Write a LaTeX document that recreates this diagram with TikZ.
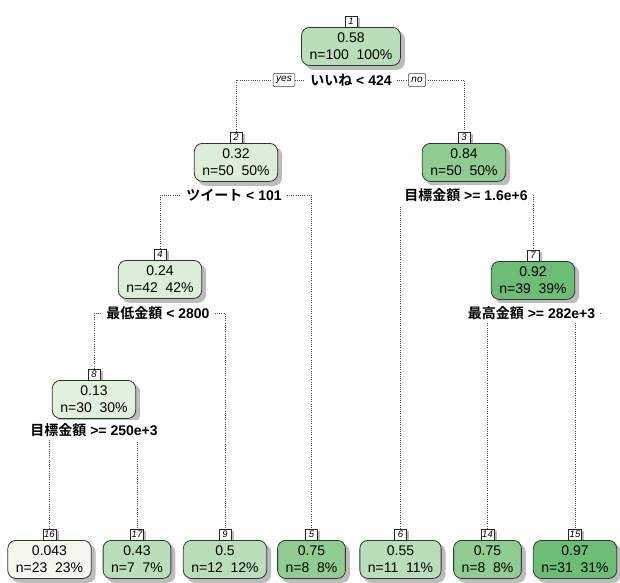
\documentclass[tikz,border=0pt]{standalone}
\usepackage{fontspec}
\setmainfont{Liberation Sans}
\newfontfamily\cjk{Noto Sans CJK JP}[BoldFont={Noto Sans CJK JP Bold}]
\usetikzlibrary{backgrounds}
\definecolor{gA}{HTML}{F2F8EE}
\definecolor{gB}{HTML}{E2F1DE}
\definecolor{gC}{HTML}{DCEED8}
\definecolor{gD}{HTML}{BADEB9}
\definecolor{gE}{HTML}{90CD93}
\definecolor{gF}{HTML}{6CBE76}
\definecolor{shad}{HTML}{BCBCBC}
\tikzset{
  tbox/.style={draw=black!80, line width=0.8pt, rounded corners=8pt, anchor=north,
    minimum height=38pt, inner xsep=8pt, inner ysep=2pt, align=center,
    font=\fontsize{14}{17}\selectfont},
  numlab/.style={draw=black!85, fill=white, line width=0.5pt, inner sep=1pt, anchor=south,
    minimum width=12pt, minimum height=11pt, font=\fontsize{9.5}{10}\selectfont\itshape},
  splitlab/.style={fill=white, inner xsep=5pt, inner ysep=3pt,
    font=\fontsize{14}{16}\selectfont\bfseries},
  yn/.style={draw=black!75, fill=white, line width=0.5pt, rounded corners=1pt,
    minimum height=13pt, inner xsep=3pt, inner ysep=1pt, font=\fontsize{10}{11}\selectfont\itshape},
  conn/.style={draw=black!70, line width=0.6pt, dash pattern=on 0.7pt off 1.5pt},
  shadowbox/.style={fill=shad, rounded corners=8pt},
  shadowlab/.style={fill=shad}
}
\begin{document}
\begin{tikzpicture}[x=1pt,y=-1pt]
\useasboundingbox (0,0) rectangle (620,582);
% internal nodes
\node[tbox, fill=gD] (n1) at (351,27) {0.58\\n=100\ \ 100\%};
\node[tbox, fill=gC] (n2) at (236,143) {0.32\\n=50\ \ 50\%};
\node[tbox, fill=gE] (n3) at (464,143) {0.84\\n=50\ \ 50\%};
\node[tbox, fill=gC] (n4) at (160,260) {0.24\\n=42\ \ 42\%};
\node[tbox, fill=gF] (n7) at (533,261) {0.92\\n=39\ \ 39\%};
\node[tbox, fill=gB] (n8) at (94,380) {0.13\\n=30\ \ 30\%};
% leaves
\node[tbox, fill=gA] (n16) at (49.5,540) {0.043\\n=23\ \ 23\%};
\node[tbox, fill=gD] (n17) at (137,540) {0.43\\n=7\ \ 7\%};
\node[tbox, fill=gD] (n9) at (225,540) {0.5\\n=12\ \ 12\%};
\node[tbox, fill=gE] (n5) at (311.5,540) {0.75\\n=8\ \ 8\%};
\node[tbox, fill=gD] (n6) at (400.5,540) {0.55\\n=11\ \ 11\%};
\node[tbox, fill=gE] (n14) at (487.5,540) {0.75\\n=8\ \ 8\%};
\node[tbox, fill=gF] (n15) at (575,540) {0.97\\n=31\ \ 31\%};
% number labels
\foreach \n in {1,2,3,4,7,8,16,17,9,5,6,14,15}{
  \node[numlab] (l\n) at (n\n.north) {\n};
}
% split labels
\node[splitlab] (s1) at (351,80) {{\cjk\bfseries いいね} < 424};
\node[yn] (yes) at (284,80) {yes};
\node[yn] (no) at (417,80) {no};
\node[splitlab] (s2) at (234,195) {{\cjk\bfseries ツイート} < 101};
\node[splitlab] (s3) at (466,195) {{\cjk\bfseries 目標金額} >= 1.6e+6};
\node[splitlab] (s4) at (158,313) {{\cjk\bfseries 最低金額} < 2800};
\node[splitlab] (s7) at (531.5,313) {{\cjk\bfseries 最高金額} >= 282e+3};
\node[splitlab] (s8) at (94,430) {{\cjk\bfseries 目標金額} >= 250e+3};
% shadows and connectors
\begin{pgfonlayer}{background}
\foreach \n in {1,2,3,4,7,8,16,17,9,5,6,14,15}{
  \fill[shadowbox] ([shift={(4,4)}]n\n.north west) rectangle ([shift={(4,4)}]n\n.south east);
  \fill[shadowlab] ([shift={(2.5,2.5)}]l\n.north west) rectangle ([shift={(2.5,2.5)}]l\n.south east);
}
\draw[conn] (l2.north) |- (s1) -| (l3.north);
\draw[conn] (l4.north) |- (s2) -| (l5.north);
\draw[conn] (l6.north) |- (s3) -| (l7.north);
\draw[conn] (l8.north) |- (s4) -| (l9.north);
\draw[conn] (l14.north) |- (s7) -| (l15.north);
\draw[conn] (l16.north) |- (s8) -| (l17.north);
\end{pgfonlayer}
\end{tikzpicture}
\end{document}
